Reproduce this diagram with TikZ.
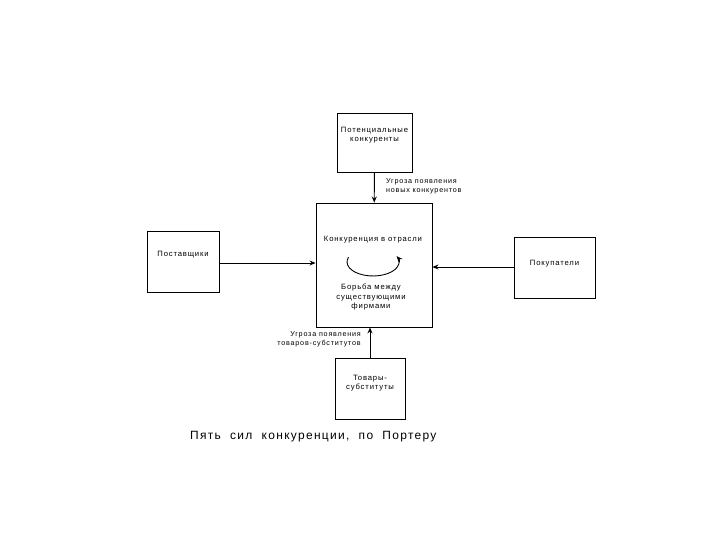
\documentclass[tikz,border=0pt]{standalone}
\usepackage{fontspec}
\setmainfont{Liberation Sans}
\newfontfamily\wideface[LetterSpace=11]{Liberation Sans}
\usetikzlibrary{arrows.meta}

\begin{document}
\begin{tikzpicture}[x=1bp,y=-1bp,
 box/.style={draw,line width=0.9pt,inner sep=0pt},
 txt/.style={align=center,inner sep=0pt,font=\wideface\fontsize{7.7}{9.5}\selectfont},
 lbl/.style={inner sep=0pt,font=\wideface\fontsize{7.2}{9}\selectfont},
 arr/.style={-{Stealth[length=6bp,width=5bp]},line width=0.9pt}]
 \useasboundingbox (0,0) rectangle (720,540);
 \node[box,minimum width=75bp,minimum height=59bp] (pot) at (374.5,142.5) {};
 \node[txt] (pottxt) at (374.5,135) {Потенциальные\\конкуренты};
 \node[box,minimum width=116bp,minimum height=124bp] (ind) at (374,265) {};
 \node[txt] (indtxt) at (373,240) {Конкуренция в отрасли};
 \node[txt] (rivtxt) at (371,297) {Борьба между\\существующими\\фирмами};
 \node[box,minimum width=72bp,minimum height=61bp] (sup) at (183,261.5) {};
 \node[txt] (suptxt) at (183,255) {Поставщики};
 \node[box,minimum width=81bp,minimum height=61bp] (buy) at (554.5,267.5) {};
 \node[txt] (buytxt) at (554.5,264) {Покупатели};
 \node[box,minimum width=70bp,minimum height=61bp] (sub) at (370,388.5) {};
 \node[txt] (subtxt) at (370,383) {Товары-\\субституты};
 \node[lbl,align=left,anchor=west] (newlbl) at (386,186) {Угроза появления\\новых конкурентов};
 \node[lbl,align=right,anchor=east] (sublbl) at (361,339.5) {Угроза появления\\товаров-субститутов};
 \node[inner sep=0pt,font=\wideface\fontsize{12}{14}\selectfont,anchor=west] (cap) at (190,437)
  {Пять\ \ сил\ \ конкуренции,\ \ по\ \ Портеру};
 \draw[arr] (pot) -- (ind);
 \draw[arr] (sub.north -| 370,0) -- (ind.south -| 370,0);
 \draw[arr] (sup.east |- 0,263) -- (ind.west |- 0,263);
 \draw[arr] (buy.west |- 0,267) -- (ind.east |- 0,267);
 \draw[arr] (348.6,257.2) arc[start angle=200,end angle=-25,x radius=26,y radius=14];
\end{tikzpicture}
\end{document}
